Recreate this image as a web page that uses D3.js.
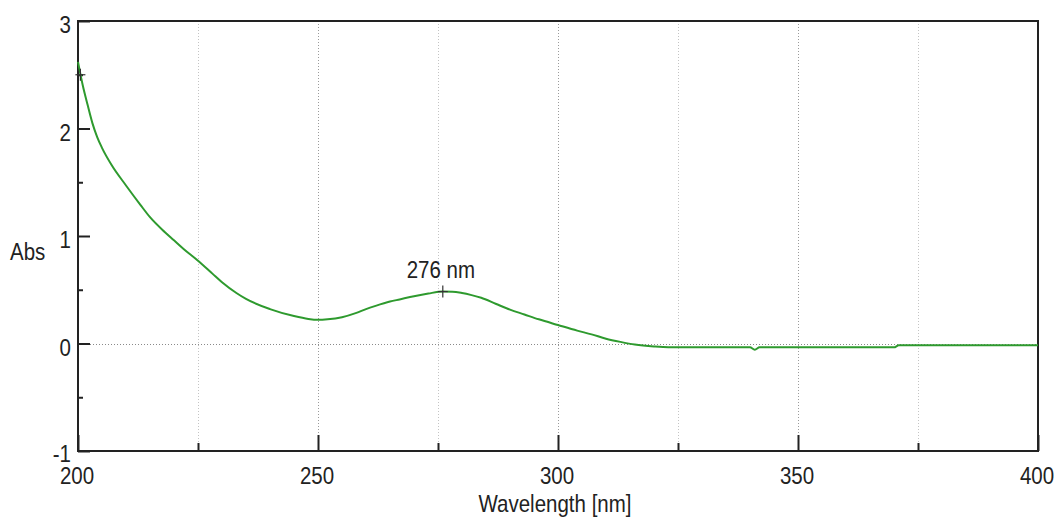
<!DOCTYPE html>
<html>
<head>
<meta charset="utf-8">
<script src="https://cdn.jsdelivr.net/npm/d3@7"></script>
<style>
  html, body { margin: 0; padding: 0; background: #fff; }
  svg { display: block; }
  text { font-family: "Liberation Sans", Arial, sans-serif; fill: #222; }
</style>
</head>
<body>
<svg id="chart" width="1054" height="518"></svg>
<script>
// UV absorbance spectrum
const wavelengths = [200, 201, 202, 203, 204, 205, 207, 210, 213, 215, 218, 220, 222, 225, 228, 230, 233, 235, 240, 245, 248, 250, 252, 255, 258, 260, 262, 265, 267, 270, 273, 276, 278, 280, 282, 284, 287, 290, 293, 296, 300, 304, 307, 310, 313, 316, 320, 323, 340, 341, 342, 370, 371, 400];
const absorbance  = [2.62, 2.40, 2.22, 2.05, 1.92, 1.82, 1.66, 1.47, 1.29, 1.175, 1.04, 0.96, 0.88, 0.77, 0.65, 0.57, 0.47, 0.415, 0.32, 0.255, 0.228, 0.22, 0.225, 0.245, 0.285, 0.32, 0.35, 0.39, 0.41, 0.44, 0.465, 0.483, 0.482, 0.47, 0.45, 0.425, 0.37, 0.315, 0.27, 0.225, 0.172, 0.12, 0.085, 0.045, 0.015, -0.01, -0.028, -0.035, -0.036, -0.058, -0.036, -0.036, -0.016, -0.016];

const xTicks = [200, 250, 300, 350, 400];
const xMinorTicks = [225, 275, 325, 375];
const yTicks = [-1, 0, 1, 2, 3];
const yMinorTicks = [-0.5, 0.5, 1.5, 2.5];

// picked peaks
const peakWl = [276, 200.5];
const peakAbs = [0.483, 2.5];
const peakLabels = ["276 nm", ""];

const xLabel = "Wavelength [nm]";
const yLabel = "Abs";

const svg = d3.select("#chart");
const plotLeft = 78, plotRight = 1038, plotTop = 21, plotBottom = 451;
const FONT = 20.5, STRETCH = 1.2;

const x = d3.scaleLinear().domain([200, 400]).range([plotLeft, plotRight]);
const y = d3.scaleLinear().domain([-1, 3]).range([plotBottom, plotTop]);

// tall, condensed-looking label text
function label(g, tx, ty, str, anchor) {
  return g.append("text")
    .attr("transform", `translate(${tx},${ty}) scale(1,${STRETCH})`)
    .attr("text-anchor", anchor || "start")
    .attr("font-size", FONT)
    .text(str);
}

// vertical dotted grid
svg.append("g").selectAll("line")
  .data(xTicks.slice(1, -1).concat(xMinorTicks))
  .join("line")
  .attr("x1", d => Math.round(x(d)) + 0.5).attr("x2", d => Math.round(x(d)) + 0.5)
  .attr("y1", plotTop).attr("y2", plotBottom)
  .attr("stroke", d => xTicks.includes(d) ? "#9a9a9a" : "#c4c4c4")
  .attr("stroke-width", 1)
  .attr("stroke-dasharray", "1,2");

// zero line
svg.append("line")
  .attr("x1", plotLeft).attr("x2", plotRight)
  .attr("y1", Math.round(y(0)) + 0.5).attr("y2", Math.round(y(0)) + 0.5)
  .attr("stroke", "#8a8a8a").attr("stroke-width", 1).attr("stroke-dasharray", "1,2");

// axes with inward ticks (labels drawn separately)
svg.append("g").attr("transform", `translate(0,${plotBottom})`)
  .call(d3.axisBottom(x).tickValues(xTicks).tickSize(-16).tickFormat(""));
svg.append("g").attr("transform", `translate(0,${plotBottom})`)
  .call(d3.axisBottom(x).tickValues(xMinorTicks).tickSize(-8).tickFormat(""));
svg.append("g").attr("transform", `translate(${plotLeft},0)`)
  .call(d3.axisLeft(y).tickValues(yTicks).tickSize(-12).tickFormat(""));
svg.append("g").attr("transform", `translate(${plotLeft},0)`)
  .call(d3.axisLeft(y).tickValues(yMinorTicks).tickSize(-5).tickFormat(""));

svg.selectAll(".domain").remove();
svg.selectAll(".tick line").attr("stroke", "#222").attr("stroke-width", 2);

// tick labels
const lab = svg.append("g");
xTicks.forEach(v => label(lab, x(v) - 1, 484, String(v), "middle"));
yTicks.forEach(v => label(lab, plotLeft - 7, y(v) + (v === -1 ? 11 : 12), String(v), "end"));

// frame
svg.append("rect")
  .attr("x", plotLeft).attr("y", plotTop)
  .attr("width", plotRight - plotLeft).attr("height", plotBottom - plotTop)
  .attr("fill", "none").attr("stroke", "#222").attr("stroke-width", 2);

// spectrum
const pts = wavelengths.map((w, i) => [w, absorbance[i]]);
svg.append("path")
  .datum(pts)
  .attr("fill", "none")
  .attr("stroke", "#2e9a2e")
  .attr("stroke-width", 2)
  .attr("d", d3.line().x(d => x(d[0])).y(d => y(d[1])).curve(d3.curveMonotoneX));

// peak markers
const peaks = peakWl.map((w, i) => ({ w, a: peakAbs[i], label: peakLabels[i] }));
const pk = svg.append("g").selectAll("g").data(peaks).join("g")
  .attr("transform", d => `translate(${x(d.w)},${y(d.a)})`);
pk.append("line").attr("x1", 0).attr("x2", 0).attr("y1", -6).attr("y2", 6)
  .attr("stroke", "#333").attr("stroke-width", 1.2);
pk.append("line").attr("x1", -5).attr("x2", 5).attr("y1", 0).attr("y2", 0)
  .attr("stroke", "#333").attr("stroke-width", 1.2);
pk.each(function (d) {
  if (d.label) label(d3.select(this), -2, -14, d.label, "middle");
});

// axis titles
label(svg, 555, 512, xLabel, "middle");
label(svg, 10, 260, yLabel, "start");
</script>
</body>
</html>
